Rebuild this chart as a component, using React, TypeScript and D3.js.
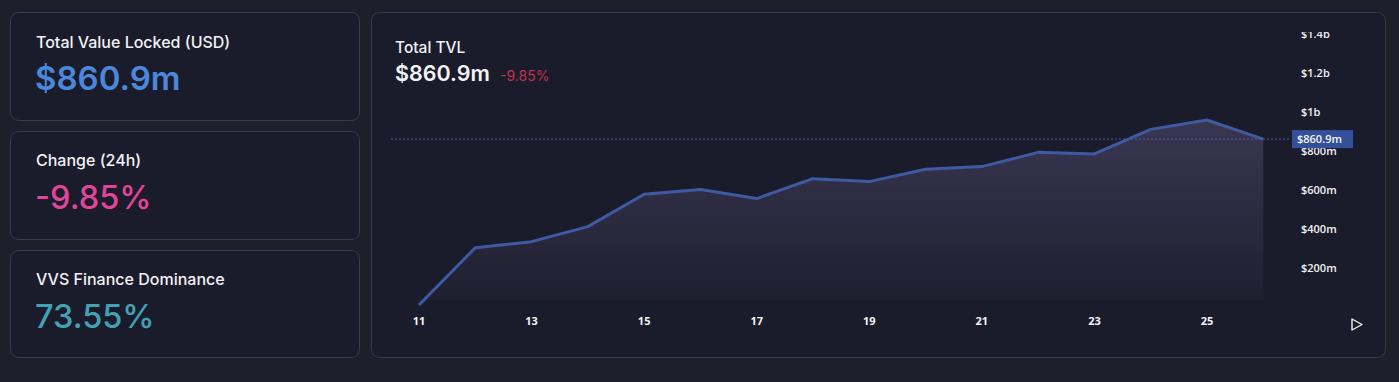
import React from "react";
import * as d3 from "d3";

const days = [11, 12, 13, 14, 15, 16, 17, 18, 19, 20, 21, 22, 23, 24, 25, 26];
const tvlM = [10, 304, 335, 412, 578, 603, 556, 658, 643, 706, 720, 793, 785, 911, 959, 860.9];
const xTicks = [11, 13, 15, 17, 19, 21, 23, 25];
const yTicks = [200, 400, 600, 800, 1000, 1200, 1400];
const yTickLabels = ["$200m", "$400m", "$600m", "$800m", "$1b", "$1.2b", "$1.4b"];
const currentLabel = "$860.9m";
const changeLabel = "-9.85%";
const dominanceLabel = "73.55%";

const W = 1399;
const H = 382;

export default function App() {
  const x = d3.scaleLinear().domain([11, 25]).range([419, 1207]);
  const y = d3.scaleLinear().domain([0, 1400]).range([307, 34]);
  const data = days.map((d, i) => ({ d, v: tvlM[i] }));
  const line = d3.line<{ d: number; v: number }>().x((p) => x(p.d)).y((p) => y(p.v));
  const area = d3
    .area<{ d: number; v: number }>()
    .x((p) => x(p.d))
    .y0(300)
    .y1((p) => y(p.v));
  const last = tvlM[tvlM.length - 1];
  const yLast = y(last);
  const card = { fill: "#1b1c2b", stroke: "#393b4e", strokeWidth: 1 };
  const font = "Inter, 'Noto Sans', sans-serif";
  const axisFont = "'Open Sans', 'Noto Sans', sans-serif";

  return (
    <div style={{ position: "fixed", left: 0, top: 0, width: W, height: H }}>
      <svg width={W} height={H} style={{ display: "block" }}>
        <defs>
          <linearGradient id="areaGrad" x1="0" y1="0" x2="0" y2="1">
            <stop offset="0%" stopColor="#3c3855" stopOpacity={0.95} />
            <stop offset="100%" stopColor="#1f1f2f" stopOpacity={0.9} />
          </linearGradient>
          <clipPath id="plotClip">
            <rect x={380} y={32} width={1000} height={300} />
          </clipPath>
        </defs>
        <rect x={0} y={0} width={W} height={H} fill="#1f1f2b" />

        {/* Left cards */}
        <rect x={10.5} y={12.5} width={349} height={108} rx={8} {...card} />
        <rect x={10.5} y={131.5} width={349} height={108} rx={8} {...card} />
        <rect x={10.5} y={250.5} width={349} height={107} rx={8} {...card} />

        <text x={36} y={48} fill="#f2f2f5" fontFamily={font} fontSize={16} fontWeight={500}>
          Total Value Locked (USD)
        </text>
        <text x={35} y={90} fill="#4b88dc" fontFamily={font} fontSize={33} fontWeight={600}>
          {currentLabel}
        </text>
        <text x={36} y={166} fill="#f2f2f5" fontFamily={font} fontSize={16} fontWeight={500}>
          Change (24h)
        </text>
        <text x={35} y={209} fill="#e2449a" fontFamily={font} fontSize={32.5} fontWeight={500}>
          {changeLabel}
        </text>
        <text x={36} y={285} fill="#f2f2f5" fontFamily={font} fontSize={16} fontWeight={500}>
          VVS Finance Dominance
        </text>
        <text x={35} y={328} fill="#41a2b4" fontFamily={font} fontSize={32.5} fontWeight={500}>
          {dominanceLabel}
        </text>

        {/* Main card */}
        <rect x={371.5} y={12.5} width={1014} height={345} rx={8} {...card} />
        <text x={395} y={53} fill="#f2f2f5" fontFamily={font} fontSize={15.5} fontWeight={500}>
          Total TVL
        </text>
        <text x={395} y={81} fill="#f4f4f6" fontFamily={font} fontSize={21.5} fontWeight={600}>
          {currentLabel}
        </text>
        <text x={500} y={81} fill="#c2304f" fontFamily={font} fontSize={14} fontWeight={400}>
          {changeLabel}
        </text>

        <g clipPath="url(#plotClip)">
          <path d={area(data) || ""} fill="url(#areaGrad)" />
          <line
            x1={391}
            x2={1291}
            y1={yLast}
            y2={yLast}
            stroke="#4d5c9c"
            strokeWidth={1}
            strokeDasharray="2,2"
          />
          <path d={line(data) || ""} fill="none" stroke="#3d5aa2" strokeWidth={3} strokeLinejoin="round" />
          {yTicks.map((t, i) => (
            <text
              key={t}
              x={1301}
              y={y(t)}
              dy="0.35em"
              fill="#f2f2f4"
              fontFamily={axisFont}
              fontSize={11}
              fontWeight={600}
            >
              {yTickLabels[i]}
            </text>
          ))}
        </g>

        <rect x={1292} y={yLast - 9} width={61} height={18} fill="#34509a" />
        <text
          x={1297}
          y={yLast}
          dy="0.35em"
          fill="#f4f4f8"
          fontFamily={axisFont}
          fontSize={11}
          fontWeight={600}
        >
          {currentLabel}
        </text>

        {xTicks.map((t) => (
          <text
            key={t}
            x={x(t)}
            y={325}
            textAnchor="middle"
            fill="#f4f4f6"
            fontFamily={axisFont}
            fontSize={11}
            fontWeight={700}
          >
            {t}
          </text>
        ))}

        <path d="M1352,319 L1362,324.5 L1352,330 Z" fill="none" stroke="#f2f2f4" strokeWidth={1.4} strokeLinejoin="round" />
      </svg>
    </div>
  );
}
